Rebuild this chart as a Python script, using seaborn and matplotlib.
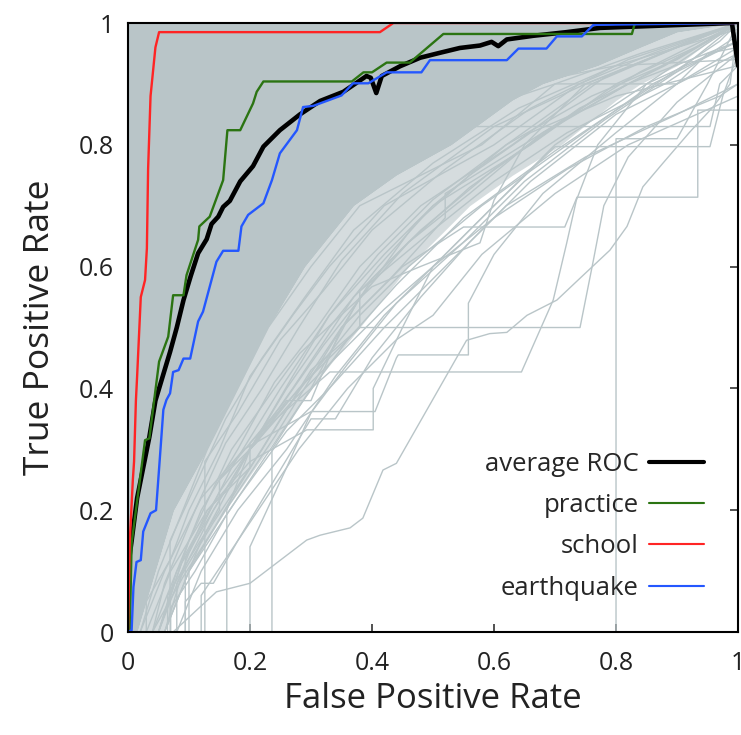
import matplotlib
matplotlib.use("Agg")
import matplotlib.pyplot as plt
import pandas as pd
import seaborn as sns
from matplotlib.lines import Line2D

# --- data ----------------------------------------------------------------
TICKS = [0, 0.2, 0.4, 0.6, 0.8, 1.0]
TICK_LABELS = ["0", "0.2", "0.4", "0.6", "0.8", "1"]

avg_fpr = [0, 0.002, 0.006, 0.015, 0.028, 0.035, 0.045, 0.057, 0.069, 0.08, 0.091,
           0.103, 0.115, 0.129, 0.137, 0.148, 0.156, 0.167, 0.184, 0.205, 0.222,
           0.249, 0.282, 0.315, 0.353, 0.391, 0.398, 0.407, 0.416, 0.446, 0.479,
           0.511, 0.544, 0.577, 0.596, 0.607, 0.621, 0.664, 0.719, 0.774, 0.828,
           0.99, 1.0]
avg_tpr = [0, 0.12, 0.15, 0.22, 0.285, 0.32, 0.38, 0.42, 0.46, 0.5, 0.545,
           0.585, 0.622, 0.645, 0.67, 0.682, 0.698, 0.708, 0.74, 0.765, 0.797,
           0.824, 0.85, 0.872, 0.887, 0.913, 0.91, 0.885, 0.913, 0.929, 0.943,
           0.951, 0.959, 0.963, 0.969, 0.962, 0.973, 0.979, 0.985, 0.992, 0.994,
           1.0, 0.93]

practice_fpr = [0, 0.003, 0.006, 0.028, 0.035, 0.051, 0.066, 0.074, 0.091, 0.096,
                0.115, 0.117, 0.134, 0.156, 0.163, 0.184, 0.205, 0.211, 0.222,
                0.367, 0.386, 0.4, 0.424, 0.462, 0.517, 0.826, 0.831, 1.0]
practice_tpr = [0, 0.003, 0.146, 0.315, 0.318, 0.444, 0.485, 0.553, 0.553, 0.586,
                0.644, 0.666, 0.682, 0.742, 0.824, 0.824, 0.868, 0.887, 0.904,
                0.904, 0.919, 0.919, 0.935, 0.935, 0.982, 0.982, 1.0, 1.0]

school_fpr = [0, 0.002, 0.003, 0.008, 0.01, 0.013, 0.015, 0.021, 0.028, 0.031,
              0.033, 0.037, 0.045, 0.051, 0.413, 0.435, 1.0]
school_tpr = [0, 0.1, 0.15, 0.25, 0.28, 0.38, 0.42, 0.55, 0.578, 0.63,
              0.76, 0.88, 0.96, 0.985, 0.985, 1.0, 1.0]

quake_fpr = [0, 0.006, 0.009, 0.014, 0.021, 0.025, 0.037, 0.046, 0.052, 0.058,
             0.063, 0.069, 0.074, 0.083, 0.091, 0.102, 0.115, 0.123, 0.145, 0.156,
             0.181, 0.186, 0.197, 0.222, 0.236, 0.249, 0.277, 0.287, 0.304, 0.35,
             0.369, 0.394, 0.424, 0.481, 0.495, 0.621, 0.64, 0.686, 0.703, 0.744,
             0.763, 1.0]
quake_tpr = [0, 0.003, 0.074, 0.115, 0.118, 0.165, 0.195, 0.2, 0.282, 0.365,
             0.381, 0.392, 0.427, 0.43, 0.449, 0.449, 0.51, 0.526, 0.608, 0.626,
             0.626, 0.666, 0.685, 0.704, 0.742, 0.786, 0.824, 0.862, 0.864, 0.881,
             0.901, 0.901, 0.919, 0.919, 0.939, 0.939, 0.958, 0.958, 0.978, 0.978,
             0.997, 1.0]

# dense core of the individual ROC curves (lower/right edge), and the fan edge
core_tpr = [0, 0.1, 0.2, 0.3, 0.4, 0.5, 0.6, 0.7, 0.75, 0.8, 0.873, 0.9, 0.93, 0.96, 0.985, 1.0]
core_fpr = [0.015, 0.045, 0.075, 0.13, 0.18, 0.23, 0.29, 0.37, 0.44, 0.53, 0.63, 0.68, 0.77, 0.84, 0.9, 1.0]
fan_fpr = [0.06, 0.1, 0.16, 0.23, 0.3, 0.38, 0.46, 0.56, 0.63, 0.71, 0.8, 0.84, 0.9, 0.94, 0.97, 1.0]

# individual per-query ROC curves that stand out of the dense mass
gray_curves = [
    [(0.02, 0), (0.05, 0.1), (0.09, 0.2), (0.13, 0.3), (0.18, 0.4), (0.23, 0.5), (0.3, 0.6),
     (0.38, 0.7), (0.58, 0.8), (0.7, 0.9), (0.84, 0.95), (1, 1)],
    [(0.03, 0), (0.03, 0.05), (0.07, 0.12), (0.1, 0.2), (0.15, 0.3), (0.2, 0.42), (0.27, 0.52),
     (0.33, 0.6), (0.42, 0.7), (0.6, 0.8), (0.74, 0.9), (0.86, 0.95), (1, 1)],
    [(0.04, 0), (0.06, 0.08), (0.11, 0.2), (0.16, 0.31), (0.22, 0.4), (0.28, 0.5), (0.35, 0.61),
     (0.45, 0.72), (0.6, 0.83), (0.75, 0.9), (0.9, 0.96), (1, 1)],
    [(0.05, 0), (0.08, 0.1), (0.12, 0.2), (0.18, 0.3), (0.24, 0.41), (0.31, 0.5), (0.38, 0.6),
     (0.48, 0.7), (0.63, 0.8), (0.78, 0.91), (0.92, 0.97), (1, 1)],
    [(0.06, 0), (0.09, 0.1), (0.14, 0.2), (0.2, 0.3), (0.26, 0.4), (0.33, 0.5), (0.41, 0.6),
     (0.5, 0.7), (0.66, 0.8), (0.8, 0.9), (0.93, 0.96), (1, 1)],
    [(0.065, 0), (0.065, 0.06), (0.1, 0.12), (0.15, 0.2), (0.15, 0.25), (0.21, 0.31), (0.26, 0.38),
     (0.3, 0.38), (0.35, 0.5), (0.43, 0.58), (0.52, 0.68), (0.52, 0.72), (0.68, 0.82),
     (0.82, 0.9), (0.95, 0.97), (1, 1)],
    [(0.07, 0), (0.07, 0.04), (0.11, 0.1), (0.16, 0.19), (0.22, 0.28), (0.28, 0.37), (0.36, 0.48),
     (0.44, 0.57), (0.55, 0.68), (0.7, 0.79), (0.85, 0.89), (0.97, 0.97), (1, 1)],
    [(0.094, 0), (0.094, 0.12), (0.13, 0.2), (0.2, 0.27), (0.2, 0.31), (0.3, 0.42), (0.38, 0.52),
     (0.46, 0.6), (0.58, 0.7), (0.72, 0.8), (0.86, 0.9), (1, 0.97)],
    [(0.069, 0), (0.069, 0.15), (0.11, 0.24), (0.16, 0.35), (0.22, 0.45), (0.29, 0.55),
     (0.37, 0.66), (0.5, 0.77), (0.64, 0.86), (0.8, 0.93), (1, 0.99)],
    [(0.05, 0), (0.1, 0.13), (0.17, 0.27), (0.25, 0.4), (0.33, 0.52), (0.41, 0.62), (0.5, 0.71),
     (0.62, 0.8), (0.76, 0.88), (0.9, 0.94), (1, 1)],
    [(0.06, 0), (0.12, 0.15), (0.2, 0.3), (0.27, 0.4), (0.37, 0.55), (0.46, 0.64), (0.56, 0.73),
     (0.7, 0.83), (0.82, 0.9), (1, 0.97)],
    [(0.08, 0), (0.08, 0.08), (0.14, 0.18), (0.22, 0.3), (0.3, 0.43), (0.38, 0.5), (0.38, 0.56),
     (0.5, 0.66), (0.6, 0.74), (0.72, 0.82), (0.88, 0.9), (1, 0.98)],
    [(0.1, 0), (0.1, 0.1), (0.18, 0.22), (0.26, 0.33), (0.33, 0.4), (0.42, 0.5), (0.52, 0.6),
     (0.62, 0.7), (0.75, 0.78), (0.9, 0.85), (1, 0.9)],
    [(0.04, 0), (0.09, 0.09), (0.16, 0.2), (0.24, 0.32), (0.32, 0.45), (0.4, 0.58), (0.48, 0.66),
     (0.6, 0.76), (0.74, 0.86), (0.88, 0.93), (1, 1)],
    [(0.12, 0), (0.12, 0.06), (0.2, 0.18), (0.28, 0.3), (0.36, 0.4), (0.44, 0.48), (0.5, 0.52),
     (0.58, 0.62), (0.7, 0.72), (0.82, 0.8), (1, 0.88)],
    [(0.2, 0.3), (0.27, 0.38), (0.35, 0.46), (0.42, 0.53), (0.5, 0.6), (0.6, 0.68), (0.72, 0.76),
     (0.85, 0.83), (0.97, 0.88), (1, 0.9)],
    [(0.15, 0.25), (0.25, 0.37), (0.32, 0.47), (0.39, 0.56), (0.47, 0.67), (0.56, 0.75),
     (0.66, 0.82), (0.8, 0.88), (1, 0.93)],
    [(0.03, 0), (0.07, 0.1), (0.13, 0.2), (0.2, 0.28), (0.293, 0.332), (0.402, 0.332),
     (0.402, 0.4), (0.45, 0.5), (0.5, 0.6), (0.6, 0.7), (0.7, 0.8), (0.85, 0.9), (1, 0.97)],
    [(0.02, 0), (0.06, 0.1), (0.12, 0.22), (0.19, 0.3), (0.3, 0.362), (0.405, 0.362),
     (0.44, 0.45), (0.443, 0.455), (0.558, 0.455), (0.558, 0.54), (0.6, 0.62), (0.68, 0.72),
     (0.8, 0.82), (0.9, 0.9), (1, 0.96)],
    [(0.05, 0), (0.09, 0.12), (0.15, 0.23), (0.22, 0.33), (0.331, 0.427), (0.645, 0.427),
     (0.697, 0.545), (0.719, 0.638), (0.735, 0.709), (0.77, 0.8), (0.85, 0.9), (1, 1)],
    [(0.04, 0), (0.08, 0.1), (0.14, 0.2), (0.2, 0.3), (0.28, 0.4), (0.38, 0.5), (0.741, 0.5),
     (0.763, 0.611), (0.78, 0.7), (0.82, 0.78), (0.9, 0.87), (1, 0.95)],
    [(0.06, 0), (0.1, 0.1), (0.17, 0.22), (0.25, 0.35), (0.35, 0.5), (0.45, 0.6), (0.55, 0.665),
     (0.716, 0.665), (0.736, 0.714), (0.934, 0.714), (0.934, 0.857), (1, 0.857), (1, 1)],
    [(0.08, 0), (0.12, 0.1), (0.18, 0.2), (0.26, 0.3), (0.34, 0.42), (0.42, 0.52), (0.5, 0.6),
     (0.6, 0.7), (0.7, 0.797), (0.954, 0.797), (0.975, 0.88), (1, 0.95)],
    [(0.05, 0), (0.1, 0.15), (0.17, 0.3), (0.24, 0.4), (0.282, 0.458), (0.4, 0.567),
     (0.479, 0.6), (0.577, 0.639), (0.6, 0.709), (0.65, 0.8), (0.75, 0.9), (1, 1)],
    [(0, 0), (0.162, 0), (0.162, 0.2), (0.2, 0.3), (0.27, 0.42), (0.33, 0.52), (0.42, 0.62),
     (0.5, 0.7), (0.62, 0.8), (0.76, 0.9), (0.9, 0.96), (1, 1)],
    [(0, 0), (0.126, 0), (0.126, 0.28), (0.18, 0.36), (0.25, 0.48), (0.32, 0.56), (0.4, 0.66),
     (0.52, 0.76), (0.66, 0.86), (0.82, 0.94), (1, 1)],
    [(0, 0), (0.2, 0), (0.2, 0.14), (0.26, 0.27), (0.3, 0.36), (0.36, 0.44), (0.44, 0.54),
     (0.55, 0.64), (0.65, 0.74), (0.78, 0.84), (0.9, 0.92), (1, 1)],
    [(0, 0), (0.236, 0), (0.236, 0.3), (0.3, 0.4), (0.38, 0.55), (0.46, 0.64), (0.56, 0.72),
     (0.68, 0.82), (0.84, 0.92), (1, 1)],
    [(0, 0), (0.8, 0), (0.8, 0.81), (0.9, 0.81), (0.95, 0.9), (1, 1)],
    [(0, 0), (0.094, 0), (0.094, 0.05), (0.12, 0.08), (0.14, 0.08), (0.18, 0.15), (0.24, 0.25),
     (0.3, 0.35), (0.34, 0.35), (0.4, 0.45), (0.48, 0.55), (0.56, 0.64), (0.66, 0.74),
     (0.8, 0.85), (1, 0.95)],
    [(0.074, 0), (0.118, 0.041), (0.145, 0.066), (0.2, 0.08), (0.293, 0.151), (0.315, 0.159),
     (0.364, 0.171), (0.385, 0.187), (0.418, 0.266), (0.44, 0.277), (0.555, 0.479),
     (0.593, 0.49), (0.621, 0.492), (0.654, 0.52), (0.703, 0.545), (0.74, 0.58),
     (0.79, 0.627), (0.818, 0.666), (0.844, 0.731), (0.877, 0.77), (0.92, 0.82),
     (0.959, 0.862), (0.987, 0.9), (1, 1)],
    [(0.3, 0.7), (0.45, 0.8), (0.55, 0.83), (0.954, 0.83), (0.97, 0.9), (1, 0.93)],
    [(0.4, 0.75), (0.55, 0.85), (0.7, 0.9), (0.9, 0.9), (0.95, 0.95), (1, 0.96)],
    [(0.5, 0.85), (0.65, 0.9), (0.8, 0.93), (1, 0.94)],
]

GRAY = "#b9c5c8"
COLORS = {"average ROC": "black", "practice": "#2b7412", "school": "#ff2424",
          "earthquake": "#2457ff"}
WIDTHS = {"average ROC": 3.3, "practice": 1.7, "school": 1.7, "earthquake": 1.7}

gray_df = pd.DataFrame(
    [(i, j, x, y) for i, c in enumerate(gray_curves) for j, (x, y) in enumerate(c)],
    columns=["curve", "step", "fpr", "tpr"],
)
named = {
    "average ROC": (avg_fpr, avg_tpr),
    "practice": (practice_fpr, practice_tpr),
    "school": (school_fpr, school_tpr),
    "earthquake": (quake_fpr, quake_tpr),
}

# --- plot ------------------------------------------------------------------
sns.set_theme(style="ticks")
plt.rcParams["font.family"] = ["Open Sans", "DejaVu Sans"]

fig = plt.figure(figsize=(7.41, 7.35), dpi=100)
ax = fig.add_axes([0.1727, 0.1401, 0.8233, 0.8286])

ax.fill_betweenx(core_tpr, core_fpr, fan_fpr, color=GRAY, alpha=0.6, lw=0)
ax.fill_betweenx(core_tpr, 0, core_fpr, color=GRAY, lw=0)
sns.lineplot(data=gray_df, x="fpr", y="tpr", units="curve", estimator=None, sort=False,
             color=GRAY, lw=1.0, ax=ax, legend=False)

handles = []
for name, (fx, ty) in named.items():
    sns.lineplot(x=fx, y=ty, sort=False, estimator=None, color=COLORS[name],
                 lw=WIDTHS[name], ax=ax, legend=False)
    handles.append(Line2D([], [], color=COLORS[name], lw=WIDTHS[name] * 0.9))

ax.legend(handles, list(named), loc="lower right", bbox_to_anchor=(0.966, 0.03),
          frameon=False, markerfirst=False, fontsize=18.5, handlelength=2.15,
          handletextpad=0.4, labelspacing=0.64, borderpad=0)

ax.set_xlim(0, 1)
ax.set_ylim(0, 1)
ax.set_xticks(TICKS)
ax.set_xticklabels(TICK_LABELS)
ax.set_yticks(TICKS)
ax.set_yticklabels(TICK_LABELS)
ax.tick_params(direction="in", length=6, width=1.2, color="#333333", labelsize=18,
               top=True, right=True, labelcolor="#222222")
ax.tick_params(axis="x", pad=14)
ax.tick_params(axis="y", pad=10)
ax.set_xlabel("False Positive Rate", fontsize=25, color="#222222", labelpad=4)
ax.set_ylabel("True Positive Rate", fontsize=25.5, color="#222222", labelpad=16)
for s in ax.spines.values():
    s.set_color("black")
    s.set_linewidth(1.5)
    s.set_zorder(5)

fig.savefig("out.png", dpi=100)
